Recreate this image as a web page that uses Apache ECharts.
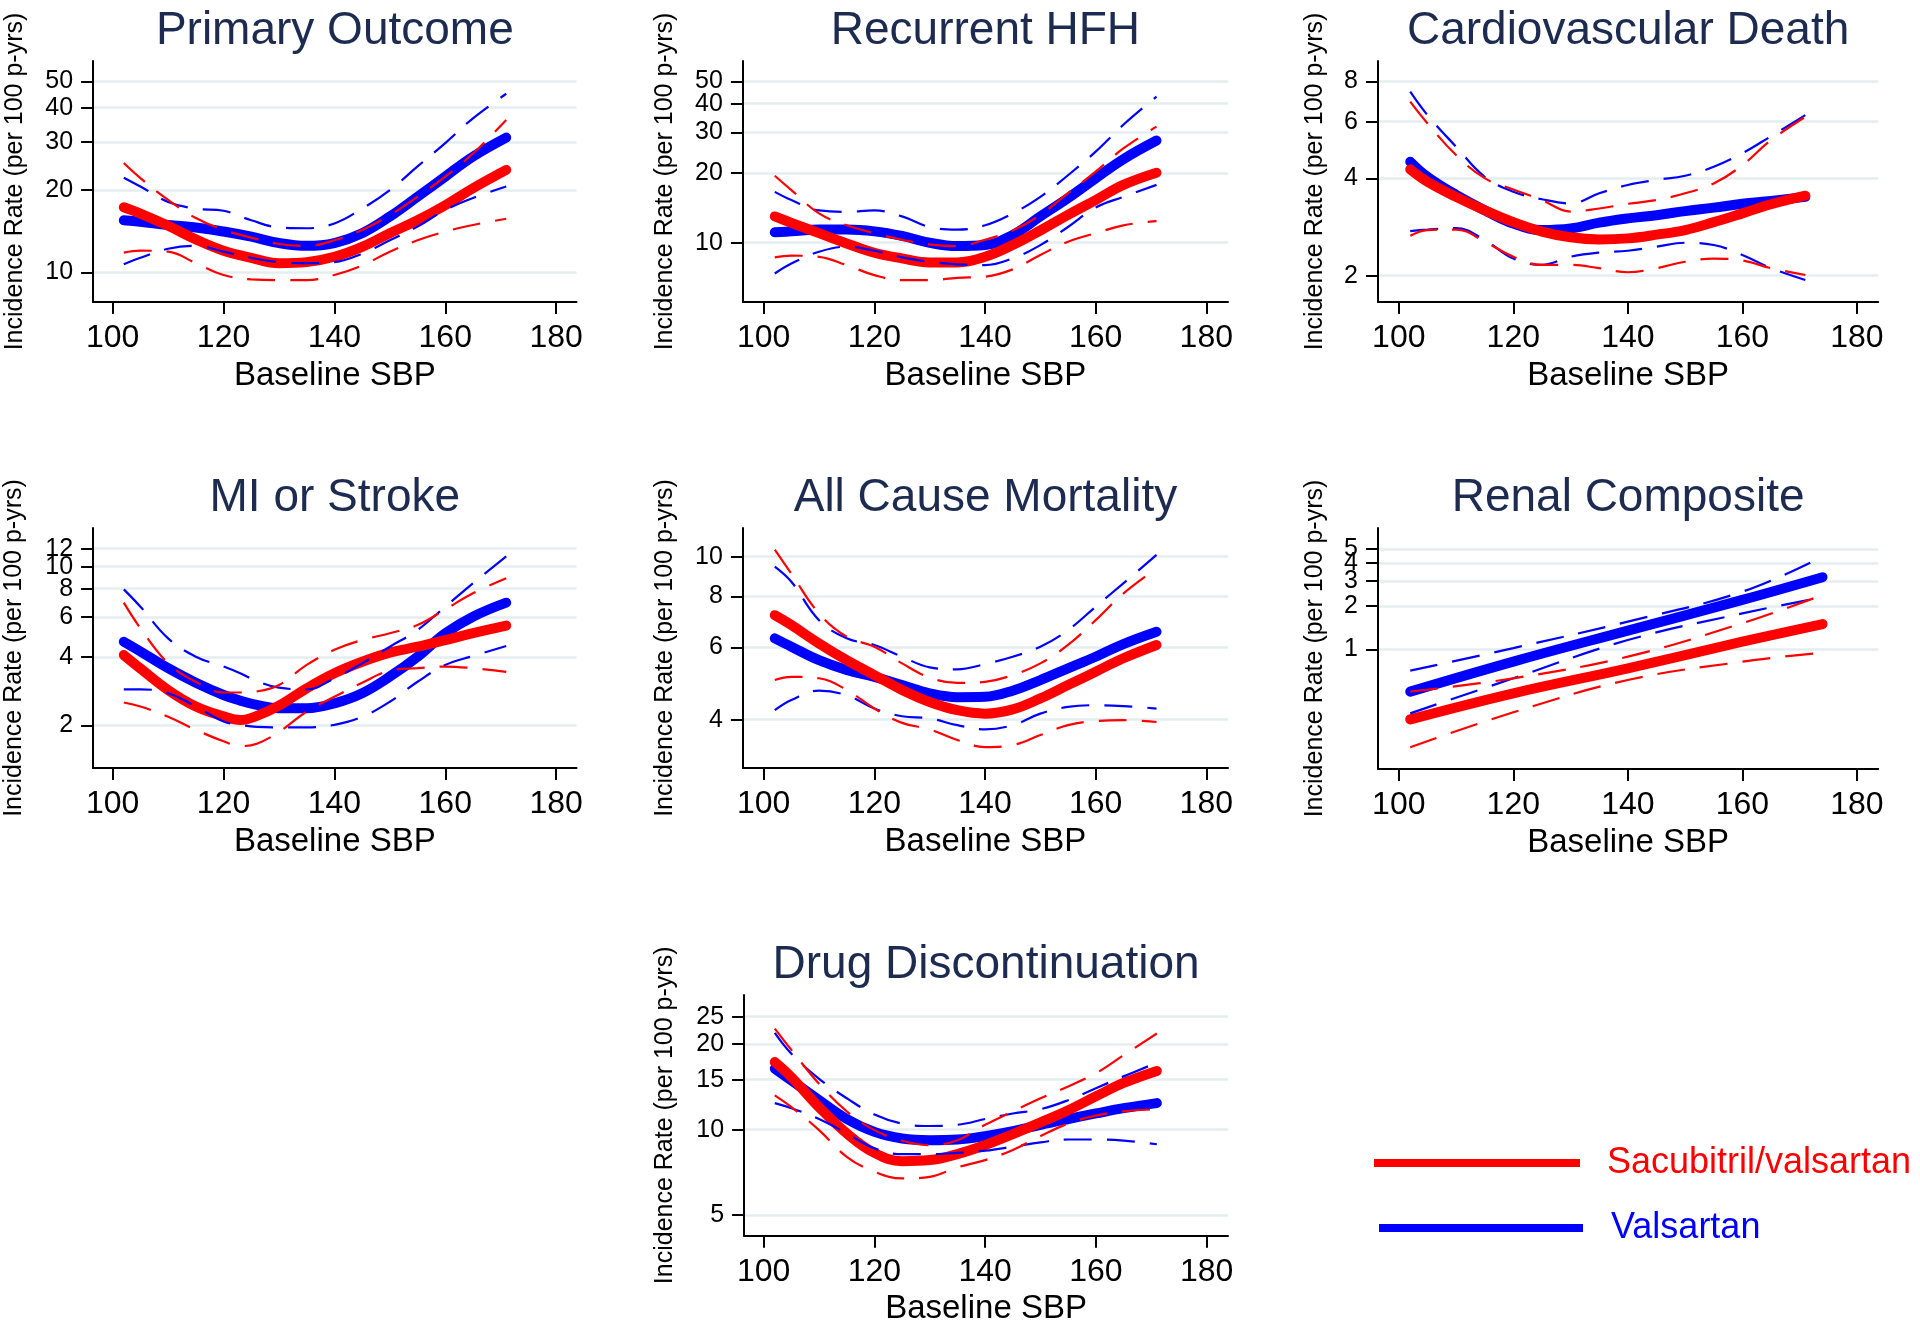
<!DOCTYPE html>
<html>
<head>
<meta charset="utf-8">
<script src="https://cdn.jsdelivr.net/npm/echarts@6/dist/echarts.min.js"></script>
<style>
html,body{margin:0;padding:0;background:#ffffff;}
#chart{width:1920px;height:1334px;}
</style>
</head>
<body>
<div id="chart"></div>
<script>
// ---------- data ----------
const sbp = [102,105,110,115,120,125,130,135,140,145,150,155,160,165,171];
const sbpMI = [102,105,110,115,120,123,126,130,135,140,145,150,155,160,165,171];
const sbpRenal = [102,120,140,160,174];
const xTicks = [100,120,140,160,180];

// Primary Outcome
const primarySV    = [17.3,16.4,14.8,13.2,12.0,11.3,10.8,10.9,11.4,12.4,13.9,15.5,17.6,20.3,23.7];
const primarySVhi  = [25.1,22.1,18.4,15.8,14.3,13.4,12.7,12.5,13.1,14.3,16.2,18.9,22.4,27.2,36.1];
const primarySVlo  = [11.8,12.0,11.9,10.8,9.78,9.42,9.37,9.37,9.78,10.6,11.9,13.1,14.1,14.9,15.7];
const primaryVal   = [15.5,15.3,14.9,14.6,14.1,13.5,12.8,12.5,12.8,13.9,16.0,18.9,22.4,26.5,31.1];
const primaryValhi = [22.2,20.6,18.1,17.1,16.8,15.5,14.6,14.5,15.1,17.1,20.0,24.4,29.7,36.6,45.0];
const primaryVallo = [10.7,11.3,12.2,12.5,11.9,11.3,10.9,10.8,10.9,11.7,13.1,14.7,16.9,18.7,20.6];
const primaryTicks = [10,20,30,40,50];

// Recurrent HFH
const hfhSV    = [13.0,12.2,11.0,9.93,9.05,8.56,8.22,8.22,8.69,9.77,11.3,13.2,15.3,17.8,20.1];
const hfhSVhi  = [19.5,16.9,13.4,11.9,11.0,10.3,9.84,9.67,10.3,11.3,13.2,16.4,20.3,25.6,31.8];
const hfhSVlo  = [8.64,8.79,8.69,8.00,7.24,6.89,6.89,7.05,7.13,7.67,8.85,10.1,11.0,11.9,12.4];
const hfhVal   = [11.1,11.2,11.4,11.4,11.2,10.7,10.0,9.67,9.77,10.8,13.0,15.6,19.0,23.0,27.7];
const hfhValhi = [16.6,15.3,13.8,13.6,13.8,13.0,11.7,11.4,11.9,13.4,15.8,19.6,24.8,32.4,42.9];
const hfhVallo = [7.36,8.13,9.14,9.61,9.23,8.64,8.27,8.06,8.00,8.56,9.77,11.7,14.2,15.8,17.8];
const hfhTicks = [10,20,30,40,50];

// Cardiovascular Death
const cvdSV    = [4.27,3.91,3.51,3.19,2.93,2.74,2.63,2.59,2.61,2.68,2.77,2.93,3.12,3.33,3.54];
const cvdSVhi  = [6.92,5.93,4.73,4.01,3.70,3.43,3.16,3.23,3.34,3.43,3.60,3.86,4.40,5.26,6.21];
const cvdSVlo  = [2.66,2.77,2.78,2.55,2.29,2.16,2.16,2.11,2.05,2.11,2.21,2.26,2.23,2.11,2.01];
const cvdVal   = [4.51,4.05,3.56,3.19,2.90,2.77,2.80,2.92,3.01,3.08,3.17,3.25,3.34,3.41,3.51];
const cvdValhi = [7.43,6.29,5.02,4.05,3.64,3.45,3.35,3.60,3.82,3.96,4.08,4.35,4.79,5.41,6.29];
const cvdVallo = [2.75,2.78,2.81,2.58,2.26,2.16,2.29,2.36,2.39,2.46,2.53,2.49,2.32,2.11,1.94];
const cvdTicks = [2,4,6,8];

// MI or Stroke
const miSV    = [4.08,3.56,2.86,2.42,2.19,2.11,2.20,2.44,2.91,3.39,3.81,4.18,4.44,4.75,5.09,5.50];
const miSVhi  = [6.94,5.35,3.75,3.11,2.79,2.79,2.82,3.01,3.69,4.30,4.75,5.09,5.53,6.48,7.63,8.89];
const miSVlo  = [2.52,2.42,2.18,1.91,1.70,1.62,1.66,1.87,2.30,2.67,3.08,3.48,3.57,3.63,3.57,3.44];
const miVal   = [4.67,4.23,3.57,3.08,2.72,2.57,2.46,2.38,2.38,2.50,2.77,3.28,4.01,5.08,6.02,6.94];
const miValhi = [7.94,6.66,4.83,4.01,3.63,3.39,3.13,2.93,2.88,3.22,3.75,4.44,5.26,6.66,8.45,11.1];
const miVallo = [2.88,2.88,2.77,2.42,2.08,2.01,1.97,1.96,1.96,2.01,2.18,2.54,3.11,3.69,4.04,4.47];
const miTicks = [2,4,6,8,10,12];

// All Cause Mortality
const acmSV    = [7.20,6.81,6.14,5.59,5.14,4.73,4.42,4.22,4.14,4.24,4.51,4.86,5.24,5.65,6.09];
const acmSVhi  = [10.4,9.09,7.27,6.38,6.03,5.49,5.07,4.92,4.95,5.14,5.49,6.09,7.00,8.13,9.36];
const acmSVlo  = [5.00,5.09,5.05,4.73,4.26,3.93,3.79,3.57,3.43,3.47,3.67,3.88,3.97,3.99,3.95];
const acmVal   = [6.32,6.03,5.59,5.29,5.09,4.86,4.64,4.54,4.55,4.71,5.00,5.34,5.70,6.12,6.56];
const acmValhi = [9.46,8.69,7.00,6.32,6.09,5.70,5.37,5.31,5.47,5.70,6.03,6.62,7.55,8.61,10.1];
const acmVallo = [4.22,4.47,4.71,4.59,4.26,4.08,4.03,3.88,3.79,3.88,4.14,4.30,4.34,4.32,4.26];
const acmTicks = [4,6,8,10];

// Renal Composite
const renalSV    = [0.325,0.494,0.737,1.13,1.50];
const renalSVhi  = [0.507,0.628,0.889,1.52,2.39];
const renalSVlo  = [0.208,0.364,0.611,0.820,0.948];
const renalVal   = [0.507,0.821,1.35,2.21,3.18];
const renalValhi = [0.710,1.02,1.56,2.52,4.42];
const renalVallo = [0.358,0.628,1.16,1.78,2.30];
const renalTicks = [1,2,3,4,5];

// Drug Discontinuation
const drugSV    = [17.3,15.3,12.0,9.70,8.28,7.74,7.81,8.20,8.82,9.64,10.6,11.7,13.1,14.6,16.1];
const drugSVhi  = [22.7,19.1,14.5,11.6,9.96,9.14,8.82,9.18,10.4,11.6,12.9,14.2,15.8,18.3,21.8];
const drugSVlo  = [13.2,12.0,9.96,8.02,7.11,6.73,6.82,7.36,7.81,8.48,9.49,10.5,11.2,11.6,11.8];
const drugVal   = [16.4,14.9,12.7,10.9,9.82,9.31,9.18,9.23,9.49,9.88,10.4,10.9,11.4,11.9,12.4];
const drugValhi = [21.9,18.5,15.1,12.9,11.3,10.5,10.3,10.4,10.9,11.4,11.8,12.7,14.0,15.4,17.2];
const drugVallo = [12.4,11.9,10.9,9.70,8.59,8.20,8.20,8.28,8.43,8.71,9.02,9.23,9.23,9.15,8.88];
const drugTicks = [5,10,15,20,25];

const titles = ['Primary Outcome','Recurrent HFH','Cardiovascular Death','MI or Stroke','All Cause Mortality','Renal Composite','Drug Discontinuation'];
const seriesNames = ['Sacubitril/valsartan','Valsartan'];
const yAxisTitle = 'Incidence Rate (per 100 p-yrs)';
const xAxisTitle = 'Baseline SBP';

// ---------- layout (pixels / axis ranges) ----------
const layout = [
  {left:93.1,  top:61,  width:483.4, height:241,   xMin:96.46, xMax:183.68, yMin:7.79,  yMax:59.3,  nameGap:65},
  {left:742.9, top:61,  width:485.1, height:241,   xMin:96.24, xMax:183.92, yMin:5.54,  yMax:61.2,  nameGap:65},
  {left:1378,  top:61,  width:500.2, height:241,   xMin:96.37, xMax:183.72, yMin:1.658, yMax:9.25,  nameGap:50},
  {left:93.1,  top:528, width:483.4, height:240,   xMin:96.46, xMax:183.68, yMin:1.297, yMax:14.8,  nameGap:66},
  {left:742.9, top:528, width:485.1, height:240,   xMin:96.24, xMax:183.92, yMin:3.05,  yMax:11.75, nameGap:65},
  {left:1378,  top:528, width:500.2, height:241,   xMin:96.37, xMax:183.72, yMin:0.1466,yMax:7.0,   nameGap:50},
  {left:744.1, top:995, width:483.9, height:240.7, xMin:96.46, xMax:183.85, yMin:4.23,  yMax:29.8,  nameGap:66}
];

const panelData = [
  {x:sbp, sv:primarySV, svHi:primarySVhi, svLo:primarySVlo, val:primaryVal, valHi:primaryValhi, valLo:primaryVallo, ticks:primaryTicks},
  {x:sbp, sv:hfhSV, svHi:hfhSVhi, svLo:hfhSVlo, val:hfhVal, valHi:hfhValhi, valLo:hfhVallo, ticks:hfhTicks},
  {x:sbp, sv:cvdSV, svHi:cvdSVhi, svLo:cvdSVlo, val:cvdVal, valHi:cvdValhi, valLo:cvdVallo, ticks:cvdTicks},
  {x:sbpMI, sv:miSV, svHi:miSVhi, svLo:miSVlo, val:miVal, valHi:miValhi, valLo:miVallo, ticks:miTicks},
  {x:sbp, sv:acmSV, svHi:acmSVhi, svLo:acmSVlo, val:acmVal, valHi:acmValhi, valLo:acmVallo, ticks:acmTicks},
  {x:sbpRenal, sv:renalSV, svHi:renalSVhi, svLo:renalSVlo, val:renalVal, valHi:renalValhi, valLo:renalVallo, ticks:renalTicks},
  {x:sbp, sv:drugSV, svHi:drugSVhi, svLo:drugSVlo, val:drugVal, valHi:drugValhi, valLo:drugVallo, ticks:drugTicks}
];

// ---------- styling ----------
const FONT = '"Liberation Sans", Arial, Helvetica, sans-serif';
const RED = '#ff0000';
const BLUE = '#0000ff';
const TITLE_COLOR = '#1c2b4f';
const GRID_COLOR = '#e4edf0';

const zip = (xs, ys) => xs.map((x, i) => [x, ys[i]]);

const grids = [], xAxes = [], yAxes = [], titleList = [], series = [];

// y axis builder: the tick list is split over two overlaid log axes on the left
// so that closely spaced ticks (e.g. 40/50, 10/12, 3/4/5) are all drawn like the original.
function makeYAxis(L, i, ticks, withName) {
  return {
    type:'log', logBase:10, gridIndex:i, position:'left', min:L.yMin, max:L.yMax,
    name: withName ? yAxisTitle : '', nameLocation:'middle', nameGap:L.nameGap, nameRotate:90,
    nameTextStyle:{fontFamily:FONT, fontSize:25, color:'#000'},
    axisLine:{show:withName, onZero:false, lineStyle:{color:'#000', width:2}},
    axisTick:{show:true, length:12, inside:false, interval:0, customValues:ticks, lineStyle:{color:'#000', width:2}},
    axisLabel:{show:true, interval:0, customValues:ticks, margin:20, fontFamily:FONT, fontSize:25, color:'#000',
      hideOverlap:false, showMinLabel:true, showMaxLabel:true},
    splitLine:{show:true, interval:0, lineStyle:{color:GRID_COLOR, width:2.6}},
    z: withName ? 2 : 1
  };
}

layout.forEach((L, i) => {
  const P = panelData[i];
  grids.push({left:L.left, top:L.top, width:L.width, height:L.height, containLabel:false, outerBoundsMode:'none'});
  titleList.push({
    text: titles[i], left: L.left + L.width/2, top: L.top - 53, textAlign:'center', padding:0,
    textStyle:{fontFamily:FONT, fontSize:46, fontWeight:'normal', color:TITLE_COLOR}
  });
  xAxes.push({
    type:'value', gridIndex:i, min:L.xMin, max:L.xMax,
    name:xAxisTitle, nameLocation:'middle', nameGap:57,
    nameTextStyle:{fontFamily:FONT, fontSize:33, color:'#000'},
    axisLine:{show:true, onZero:false, lineStyle:{color:'#000', width:2}},
    axisTick:{show:true, length:12, inside:false, customValues:xTicks, lineStyle:{color:'#000', width:2}},
    axisLabel:{show:true, customValues:xTicks, margin:20, fontFamily:FONT, fontSize:32, color:'#000', hideOverlap:false},
    splitLine:{show:false}
  });
  const ticksA = P.ticks.filter((t, k) => k % 2 === 0);
  const ticksB = P.ticks.filter((t, k) => k % 2 === 1);
  yAxes.push(makeYAxis(L, i, ticksA, true));
  yAxes.push(makeYAxis(L, i, ticksB, false));
  const yIdx = 2 * i;
  const base = {type:'line', xAxisIndex:i, yAxisIndex:yIdx, smooth:0.4, symbol:'none', showSymbol:false, silent:true, animation:false};
  series.push(Object.assign({}, base, {name:seriesNames[1], data:zip(P.x, P.val), z:3,
    lineStyle:{color:BLUE, width:10, cap:'round', join:'round'}, itemStyle:{color:BLUE}}));
  series.push(Object.assign({}, base, {name:seriesNames[0], data:zip(P.x, P.sv), z:3,
    lineStyle:{color:RED, width:10, cap:'round', join:'round'}, itemStyle:{color:RED}}));
  series.push(Object.assign({}, base, {name:seriesNames[1] + ' upper 95% CI', data:zip(P.x, P.valHi), z:4,
    lineStyle:{color:BLUE, width:2.2, type:[28,15]}, itemStyle:{color:BLUE}}));
  series.push(Object.assign({}, base, {name:seriesNames[1] + ' lower 95% CI', data:zip(P.x, P.valLo), z:4,
    lineStyle:{color:BLUE, width:2.2, type:[28,15]}, itemStyle:{color:BLUE}}));
  series.push(Object.assign({}, base, {name:seriesNames[0] + ' upper 95% CI', data:zip(P.x, P.svHi), z:4,
    lineStyle:{color:RED, width:2.2, type:[28,15]}, itemStyle:{color:RED}}));
  series.push(Object.assign({}, base, {name:seriesNames[0] + ' lower 95% CI', data:zip(P.x, P.svLo), z:4,
    lineStyle:{color:RED, width:2.2, type:[28,15]}, itemStyle:{color:RED}}));
});

const legendCommon = {orient:'horizontal', icon:'rect', itemHeight:8, selectedMode:false, padding:0};
const legends = [
  Object.assign({}, legendCommon, {left:1374, top:1145, itemWidth:206,
    data:[{name:seriesNames[0], itemStyle:{color:RED}, textStyle:{color:RED}}],
    textStyle:{fontFamily:FONT, fontSize:36, color:RED, padding:[0,0,0,22]}}),
  Object.assign({}, legendCommon, {left:1379, top:1210, itemWidth:204,
    data:[{name:seriesNames[1], itemStyle:{color:BLUE}, textStyle:{color:BLUE}}],
    textStyle:{fontFamily:FONT, fontSize:36, color:BLUE, padding:[0,0,0,23]}})
];

const chart = echarts.init(document.getElementById('chart'), null, {renderer:'canvas'});
chart.setOption({
  backgroundColor:'#ffffff',
  animation:false,
  title:titleList,
  legend:legends,
  grid:grids,
  xAxis:xAxes,
  yAxis:yAxes,
  series:series
});
</script>
</body>
</html>
